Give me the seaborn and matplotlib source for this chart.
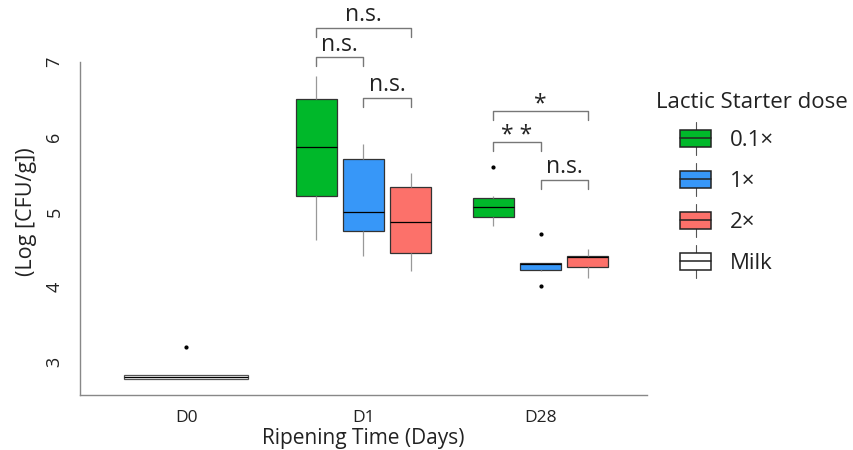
import matplotlib
matplotlib.use("Agg")
import matplotlib.pyplot as plt
import numpy as np
import pandas as pd
import seaborn as sns
from matplotlib.legend_handler import HandlerBase
from matplotlib.lines import Line2D
from matplotlib.patches import Patch, Rectangle

# categories
days = ['D0', 'D1', 'D28']
doses = ['0.1×', '1×', '2×']
legend_labels = ['0.1×', '1×', '2×', 'Milk']
dose_colors = ['#00B82A', '#3797F8', '#FC716A']

# log CFU/g per group
milk_d0 = [2.78, 2.78, 2.78, 2.79, 2.80, 2.81, 2.83, 2.83, 3.20]
d1_low = [4.63, 4.90, 5.21, 5.50, 5.87, 6.20, 6.51, 6.70, 6.81]
d1_mid = [4.41, 4.60, 4.75, 4.90, 5.00, 5.30, 5.71, 5.80, 5.91]
d1_high = [4.21, 4.30, 4.45, 4.70, 4.87, 5.10, 5.33, 5.45, 5.52]
d28_low = [4.81, 4.88, 4.93, 5.00, 5.07, 5.12, 5.18, 5.21, 5.60]
d28_mid = [4.01, 4.21, 4.23, 4.28, 4.31, 4.32, 4.32, 4.32, 4.71]
d28_high = [4.12, 4.20, 4.27, 4.35, 4.40, 4.41, 4.41, 4.46, 4.51]

# pairwise comparisons: day, dose a, dose b, bracket height, label
comparisons = [
    ('D1', '0.1×', '2×', 7.45, 'n.s.'),
    ('D1', '0.1×', '1×', 7.06, 'n.s.'),
    ('D1', '1×', '2×', 6.52, 'n.s.'),
    ('D28', '0.1×', '2×', 6.35, '*'),
    ('D28', '0.1×', '1×', 5.93, '* *'),
    ('D28', '1×', '2×', 5.43, 'n.s.'),
]

groups = {
    ('D1', '0.1×'): d1_low, ('D1', '1×'): d1_mid, ('D1', '2×'): d1_high,
    ('D28', '0.1×'): d28_low, ('D28', '1×'): d28_mid, ('D28', '2×'): d28_high,
}
rows = []
for (day, dose), vals in groups.items():
    for v in vals:
        rows.append({'Day': day, 'Dose': dose, 'logCFU': v})
starter = pd.DataFrame(rows)
milk = pd.DataFrame({'Day': 'D0', 'Dose': 'Milk', 'logCFU': milk_d0})

sns.set_style('white')
plt.rcParams['font.family'] = ['Open Sans', 'DejaVu Sans']

fig = plt.figure(figsize=(8.54, 4.5), dpi=100)
ax = fig.add_axes([80 / 854, 55 / 450, 567 / 854, 333 / 450])

edge = '#333333'
common = dict(linewidth=0.9, fliersize=2, saturation=1, legend=False,
              flierprops=dict(marker='o', markerfacecolor='black', markeredgecolor='black'),
              whiskerprops=dict(color='#999999'),
              capprops=dict(visible=False),
              medianprops=dict(color='black'))

sns.boxplot(data=milk, x='Day', y='logCFU', hue='Dose', order=days, hue_order=['Milk'],
            palette={'Milk': 'white'}, linecolor='#555555', width=0.7, dodge=False, ax=ax,
            **common)
sns.boxplot(data=starter, x='Day', y='logCFU', hue='Dose', order=days, hue_order=doses,
            palette=dict(zip(doses, dose_colors)), linecolor=edge, width=0.8, gap=0.13,
            dodge=True, ax=ax, **common)

ax.set_xlim(-0.6, 2.6)
ax.set_ylim(2.56, 7.0)
ax.set_yticks([3, 4, 5, 6, 7])

# significance brackets
slot = 0.8 / len(doses)
for day, a, b, yb, lab in comparisons:
    x0 = days.index(day) + (doses.index(a) - 1) * slot
    x1 = days.index(day) + (doses.index(b) - 1) * slot
    ax.plot([x0, x0, x1, x1], [yb - 0.12, yb, yb, yb - 0.12], color='#777777', lw=1, clip_on=False)
    # asterisks sit high in the font, so pull them down a bit
    off = -0.07 if '*' in lab else 0.01
    ax.text((x0 + x1) / 2, yb + off, lab, ha='center', va='bottom', fontsize=16.5,
            color='#222222', clip_on=False)

for s in ['top', 'right']:
    ax.spines[s].set_visible(False)
for s in ['left', 'bottom']:
    ax.spines[s].set_color('#888888')
    ax.spines[s].set_linewidth(1)
ax.tick_params(axis='both', colors='#888888', length=3, width=0.8, labelcolor='#222222')
ax.tick_params(axis='x', pad=8)
ax.tick_params(axis='y', pad=9)
plt.setp(ax.get_xticklabels(), fontsize=12.5)
plt.setp(ax.get_yticklabels(), fontsize=13, rotation=90, va='center')

ax.set_xlabel('Ripening Time (Days)', fontsize=15, color='#222222', labelpad=1)
ax.set_ylabel('(Log [CFU/g])', fontsize=15.5, color='#222222')
ax.yaxis.set_label_coords(-0.076, 0.55)


class BoxHandler(HandlerBase):
    def create_artists(self, legend, orig_handle, xdescent, ydescent, width, height,
                       fontsize, trans):
        fc = orig_handle.get_facecolor()
        x0, y0 = -xdescent, -ydescent
        cx = x0 + width / 2
        wh = Line2D([cx, cx], [y0 - 0.5 * height, y0 + 1.5 * height], color='#555555',
                    lw=0.8, transform=trans)
        box = Rectangle((x0, y0), width, height, facecolor=fc,
                        edgecolor='#222222', lw=1.1, transform=trans)
        med = Line2D([x0, x0 + width], [y0 + 0.5 * height] * 2, color='#222222', lw=1.1,
                     transform=trans)
        return [wh, box, med]


handles = [Patch(facecolor=c) for c in dose_colors] + [Patch(facecolor='white')]
fig.text(656 / 854, 1 - 102 / 450, 'Lactic Starter dose', fontsize=16, color='#222222',
         va='center', ha='left')
fig.legend(handles, legend_labels, handler_map={Patch: BoxHandler()}, loc='upper left',
           bbox_to_anchor=(680 / 854, 1 - 130 / 450), frameon=False, borderpad=0,
           borderaxespad=0, fontsize=16, handlelength=1.4, handleheight=0.77,
           handletextpad=0.86, labelspacing=0.9, labelcolor='#222222')

fig.savefig('out.png', dpi=100, facecolor='white')
